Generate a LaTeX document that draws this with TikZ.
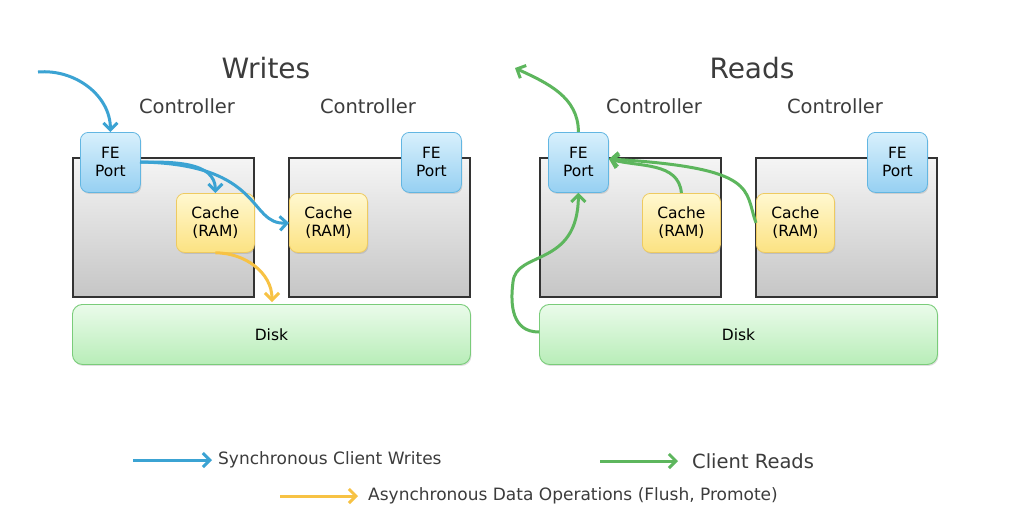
\documentclass[tikz,border=0pt]{standalone}
\usepackage{fontspec}
\setmainfont{DejaVu Sans}
\usetikzlibrary{arrows.meta,
                positioning,
                shadows}
\definecolor{writeblue}{HTML}{3BA3D3}
\definecolor{readgreen}{HTML}{5DB65D}
\definecolor{flushyellow}{HTML}{F7C244}
\definecolor{textgray}{HTML}{3C3C3C}
\definecolor{feline}{HTML}{62B6E2}
\definecolor{fetop}{HTML}{D8F0FC}
\definecolor{febot}{HTML}{96D0F2}
\definecolor{cacheline}{HTML}{EECA60}
\definecolor{cachetop}{HTML}{FFF8D0}
\definecolor{cachebot}{HTML}{FCE282}
\definecolor{diskline}{HTML}{7ACC7A}
\definecolor{disktop}{HTML}{EAFBEA}
\definecolor{diskbot}{HTML}{B8EDB8}
\tikzset{controller/.style =
   {rectangle,
    draw=black!80,
    line width=1.5pt,
    top color=gray!8,
    bottom color=gray!45,
    minimum width=181pt,
    minimum height=139pt,
    anchor=north west}}
\tikzset{feport/.style =
   {rectangle,
    draw=feline,
    line width=0.8pt,
    rounded corners=8pt,
    top color=fetop,
    bottom color=febot,
    drop shadow={shadow xshift=1pt, shadow yshift=-1.5pt, opacity=0.25},
    minimum width=60pt,
    minimum height=60pt,
    inner sep=0pt,
    align=center,
    text=black,
    font=\fontsize{15.5}{18}\selectfont,
    anchor=north west}}
\tikzset{cache/.style =
   {rectangle,
    draw=cacheline,
    line width=0.8pt,
    rounded corners=8pt,
    top color=cachetop,
    bottom color=cachebot,
    drop shadow={shadow xshift=1pt, shadow yshift=-1.5pt, opacity=0.25},
    minimum width=78pt,
    minimum height=59pt,
    inner sep=0pt,
    align=center,
    text=black,
    font=\fontsize{15.5}{18}\selectfont,
    anchor=north west}}
\tikzset{disk/.style =
   {rectangle,
    draw=diskline,
    line width=0.9pt,
    rounded corners=10pt,
    top color=disktop,
    bottom color=diskbot,
    drop shadow={shadow xshift=1pt, shadow yshift=-1.5pt, opacity=0.25},
    minimum width=398pt,
    minimum height=60pt,
    inner sep=0pt,
    text=black,
    font=\fontsize{15.5}{18}\selectfont,
    anchor=north west}}
\tikzset{title/.style = {text=textgray, font=\fontsize{28}{32}\selectfont}}
\tikzset{ctrllabel/.style = {text=textgray, font=\fontsize{19.5}{22}\selectfont}}
\tikzset{legend/.style = {text=textgray, anchor=west, inner sep=0pt, font=\fontsize{17}{20}\selectfont}}
\tikzset{arrow/.style = {draw, line width=3pt, -{Straight Barb[length=7pt, width=14pt]}}}
\tikzset{writearrow/.style = {arrow, writeblue}}
\tikzset{readarrow/.style = {arrow, readgreen}}
\tikzset{flusharrow/.style = {arrow, flushyellow}}

\begin{document}
\begin{tikzpicture}[x=1pt, y=1pt]

    \useasboundingbox [fill=white] (0,0) rectangle (1024,-515);

    % writes
    \node [title] (writes) at (266,-68) {Writes};
    \node [ctrllabel] (ctrlA) at (187,-106) {Controller};
    \node [ctrllabel] (ctrlB) at (368,-106) {Controller};

    \node [controller] (boxA) at (72,-157) {};
    \node [controller] (boxB) at (288,-157) {};

    \node [feport] (feA) at (80,-132) {FE\\Port};
    \node [feport] (feB) at (401,-132) {FE\\Port};
    \node [cache] (cacheA) at (176,-193) {Cache\\(RAM)};
    \node [cache] (cacheB) at (289,-193) {Cache\\(RAM)};
    \node [disk] (diskW) at (72,-304) {Disk};

    % reads
    \node [title] (reads) at (752,-68) {Reads};
    \node [ctrllabel] (ctrlC) at (654,-106) {Controller};
    \node [ctrllabel] (ctrlD) at (835,-106) {Controller};

    \node [controller] (boxC) at (539,-157) {};
    \node [controller] (boxD) at (755,-157) {};

    \node [feport] (feC) at (548,-132) {FE\\Port};
    \node [feport] (feD) at (867,-132) {FE\\Port};
    \node [cache] (cacheC) at (642,-193) {Cache\\(RAM)};
    \node [cache] (cacheD) at (756,-193) {Cache\\(RAM)};
    \node [disk] (diskR) at (539,-304) {Disk};

    % write path
    \coordinate (client) at (38,-72);
    \coordinate (feAout) at (140,-162);
    \coordinate (diskWin) at (272,-302);
    \draw [writearrow] (client) to [out=5, in=90] (feA.north);
    \draw [writearrow] (feAout) to [out=0, in=90] (cacheA.north);
    \draw [writearrow] (feAout) .. controls (265,-164) and (248,-225) .. (cacheB.west);
    \draw [flusharrow] (cacheA.south) to [out=0, in=90] (diskWin);

    % read path
    \coordinate (reader) at (515,-68);
    \coordinate (feCin) at (609,-159);
    \coordinate (diskRout) at (539,-332);
    \coordinate (bend) at (513,-282);
    \draw [readarrow] (feC.north) to [out=90, in=-25] (reader);
    \draw [readarrow] (cacheC.north) to [out=95, in=-15] (feCin);
    \draw [readarrow] (cacheD.west) .. controls (744,-190) and (760,-168) .. (feCin);
    \draw [readarrow] (diskRout) .. controls (512,-332) and (510,-305) .. (bend)
                      .. controls (516,-250) and (578,-268) .. (feC.south);

    % legend
    \coordinate (lgW) at (133,-460);
    \coordinate (lgR) at (600,-461);
    \coordinate (lgF) at (280,-496);
    \node [legend] (lgWtext) at (218,-460) {Synchronous Client Writes};
    \node [legend, font=\fontsize{19.5}{22}\selectfont] (lgRtext) at (692,-461) {Client Reads};
    \node [legend] (lgFtext) at (368,-496) {Asynchronous Data Operations (Flush, Promote)};
    \draw [writearrow] (lgW) -- ([xshift=-6pt]lgWtext.west);
    \draw [readarrow] (lgR) -- ([xshift=-14pt]lgRtext.west);
    \draw [flusharrow] (lgF) -- ([xshift=-10pt]lgFtext.west);

\end{tikzpicture}
\end{document}
